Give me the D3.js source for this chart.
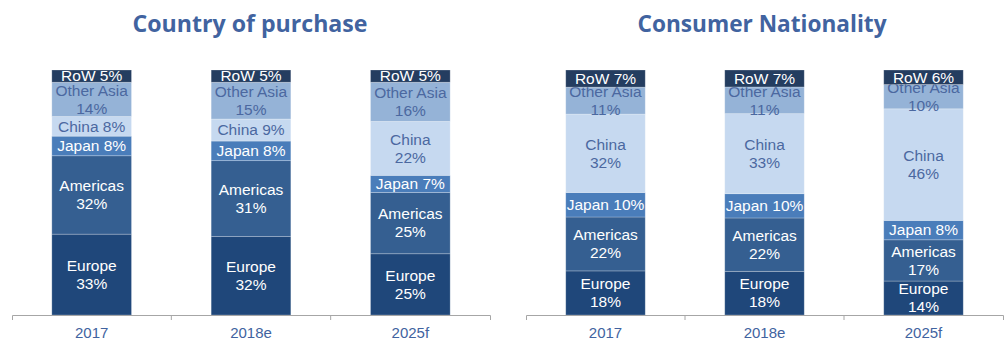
<!DOCTYPE html>
<html>
<head>
<meta charset="utf-8">
<script src="https://cdn.jsdelivr.net/npm/d3@7"></script>
<style>
  html, body { margin: 0; padding: 0; background: #ffffff; }
  svg { display: block; }
</style>
</head>
<body>
<div id="chart"></div>
<script>
// Category and series data (shares in %)
const years = ["2017", "2018e", "2025f"];
const regions = ["Europe", "Americas", "Japan", "China", "Other Asia", "RoW"];

const purchaseEurope    = [33, 32, 25];
const purchaseAmericas  = [32, 31, 25];
const purchaseJapan     = [8, 8, 7];
const purchaseChina     = [8, 9, 22];
const purchaseOtherAsia = [14, 15, 16];
const purchaseRoW       = [5, 5, 5];

const nationalityEurope    = [18, 18, 14];
const nationalityAmericas  = [22, 22, 17];
const nationalityJapan     = [10, 10, 8];
const nationalityChina     = [32, 33, 46];
const nationalityOtherAsia = [11, 11, 10];
const nationalityRoW       = [7, 7, 6];

const panelTitles = ["Country of purchase", "Consumer Nationality"];

// Styling
const fills = {
  "Europe": "#1f477a",
  "Americas": "#355f91",
  "Japan": "#4a7dba",
  "China": "#c6d9f0",
  "Other Asia": "#95b3d7",
  "RoW": "#243d60"
};
const labelColors = {
  "Europe": "#ffffff",
  "Americas": "#ffffff",
  "Japan": "#ffffff",
  "China": "#4b68a0",
  "Other Asia": "#4b68a0",
  "RoW": "#ffffff"
};
const blueText = "#4163a0";
const fontFamily = "'Liberation Sans', Arial, sans-serif";

function buildRows(cols) {
  return years.map((y, i) => {
    const row = { year: y };
    regions.forEach((r, k) => { row[r] = cols[k][i]; });
    return row;
  });
}

const panels = [
  {
    title: panelTitles[0],
    rows: buildRows([purchaseEurope, purchaseAmericas, purchaseJapan, purchaseChina, purchaseOtherAsia, purchaseRoW]),
    range: [12, 490],
    titleX: 250,
    titleWidth: 235
  },
  {
    title: panelTitles[1],
    rows: buildRows([nationalityEurope, nationalityAmericas, nationalityJapan, nationalityChina, nationalityOtherAsia, nationalityRoW]),
    range: [526, 1003],
    titleX: 762,
    titleWidth: 249
  }
];

const W = 1007, H = 341;
const svg = d3.select("#chart").append("svg")
  .attr("width", W).attr("height", H)
  .attr("font-family", fontFamily);

const y = d3.scaleLinear().domain([0, 1]).range([315, 70]);

// Single-line labels for short segments, two lines otherwise
function twoLines(region, value) {
  if (region === "RoW" || region === "Japan") return false;
  if (region === "Other Asia") return true;
  return value >= 10;
}

panels.forEach(p => {
  const g = svg.append("g");

  g.append("text")
    .attr("x", p.titleX).attr("y", 32)
    .attr("text-anchor", "middle")
    .attr("font-family", "'Open Sans', 'DejaVu Sans', sans-serif")
    .attr("font-weight", "bold")
    .attr("font-size", 24)
    .attr("fill", blueText)
    .attr("textLength", p.titleWidth)
    .attr("lengthAdjust", "spacingAndGlyphs")
    .text(p.title);

  const x = d3.scaleBand()
    .domain(years)
    .range(p.range)
    .paddingInner(0.5)
    .paddingOuter(0.25);

  const stacked = d3.stack()
    .keys(regions)
    .offset(d3.stackOffsetExpand)(p.rows);

  // Segments drawn bottom-up, each label right after its own rect
  stacked.forEach(layer => {
    const region = layer.key;
    const lg = g.append("g");
    lg.selectAll("rect")
      .data(layer)
      .join("rect")
      .attr("x", d => x(d.data.year))
      .attr("width", x.bandwidth())
      .attr("y", d => y(d[1]))
      .attr("height", d => y(d[0]) - y(d[1]))
      .attr("fill", fills[region])
      .attr("stroke", "rgba(255,255,255,0.3)")
      .attr("stroke-width", 0.8);

    lg.selectAll("text")
      .data(layer)
      .join("text")
      .attr("text-anchor", "middle")
      .attr("font-size", 15.5)
      .attr("fill", labelColors[region])
      .each(function(d) {
        const v = d.data[region];
        const cx = x(d.data.year) + x.bandwidth() / 2;
        const cy = (y(d[0]) + y(d[1])) / 2;
        const t = d3.select(this);
        if (twoLines(region, v)) {
          t.append("tspan").attr("x", cx).attr("y", cy - 3.7).text(region);
          t.append("tspan").attr("x", cx).attr("y", cy + 14.3).text(v + "%");
        } else {
          t.append("tspan").attr("x", cx).attr("y", cy + 5.3).text(region + " " + v + "%");
        }
      });
  });

  // Category axis
  const axis = g.append("g")
    .attr("transform", "translate(0,315)")
    .call(d3.axisBottom(x).tickSize(0).tickSizeOuter(5).tickPadding(12));
  axis.select(".domain").attr("stroke", "#a6a6a6").attr("stroke-width", 1);
  axis.selectAll(".tick text")
    .attr("font-family", fontFamily)
    .attr("font-size", 15)
    .attr("fill", blueText);

  // Tick marks between categories
  const step = x.step();
  const bounds = d3.range(1, years.length).map(i => p.range[0] + i * step);
  axis.selectAll("line.sep")
    .data(bounds)
    .join("line")
    .attr("class", "sep")
    .attr("x1", d => d).attr("x2", d => d)
    .attr("y1", 0).attr("y2", 5)
    .attr("stroke", "#a6a6a6");
});
</script>
</body>
</html>
